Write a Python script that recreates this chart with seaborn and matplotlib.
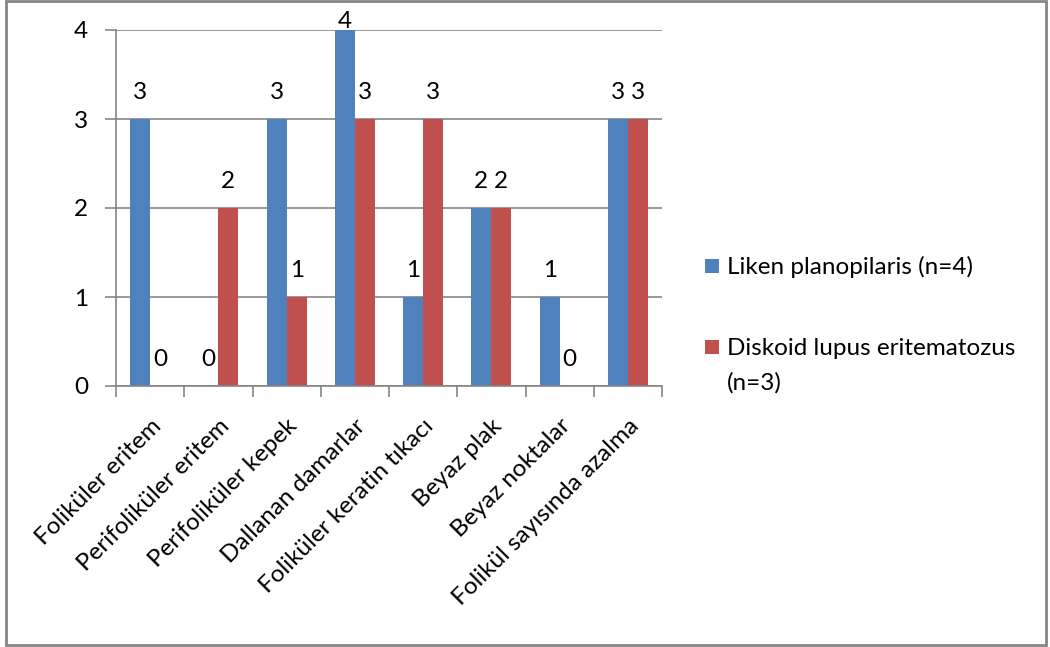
import matplotlib
matplotlib.use("Agg")
import matplotlib.pyplot as plt
import seaborn as sns
import pandas as pd
from matplotlib.patches import Rectangle
from matplotlib.ticker import FixedLocator

# Dermoscopic findings per diagnosis group
categories = [
    "Foliküler eritem",
    "Perifoliküler eritem",
    "Perifoliküler kepek",
    "Dallanan damarlar",
    "Foliküler keratin tıkacı",
    "Beyaz plak",
    "Beyaz noktalar",
    "Folikül sayısında azalma",
]
liken_values = [3, 0, 3, 4, 1, 2, 1, 3]
diskoid_values = [0, 2, 1, 3, 3, 2, 0, 3]
series_names = ["Liken planopilaris (n=4)", "Diskoid lupus eritematozus\n(n=3)"]
series_colors = ["#4F81BD", "#C0504D"]
y_ticks = [0, 1, 2, 3, 4]

df = pd.DataFrame({
    "category": categories * 2,
    "value": liken_values + diskoid_values,
    "series": [series_names[0]] * len(categories) + [series_names[1]] * len(categories),
})

sns.set_theme(style="white")
plt.rcParams["font.family"] = ["Lato", "DejaVu Sans"]
FS = 17.5
plt.rcParams["font.size"] = FS

grey = "#868686"

fig = plt.figure(figsize=(10.5, 6.47), dpi=100)
ax = fig.add_axes([116 / 1050, 1 - 386 / 647, 546 / 1050, 356 / 647])

sns.barplot(
    data=df, x="category", y="value", hue="series",
    order=categories, hue_order=series_names,
    palette=series_colors, width=0.586, saturation=1, gap=0,
    linewidth=0, edgecolor="none",
    ax=ax, legend=False,
)

# value labels above each bar
for container in ax.containers:
    for bar in container:
        v = bar.get_height()
        xc = bar.get_x() + bar.get_width() / 2
        ax.text(xc, min(v + 0.30, 4.09), f"{int(round(v))}",
                ha="center", va="center", fontsize=FS, color="black",
                clip_on=False)

ax.set_ylim(0, 4)
ax.set_xlim(-0.5, len(categories) - 0.5)
ax.yaxis.set_major_locator(FixedLocator(y_ticks))
ax.set_yticklabels([str(t) for t in y_ticks])
ax.yaxis.grid(True, color=grey, lw=1.2)
ax.set_axisbelow(True)
ax.set_xlabel("")
ax.set_ylabel("")

ax.set_xticks(range(len(categories)))
ax.set_xticklabels(categories, rotation=45, ha="right", va="top",
                   rotation_mode="anchor")
ax.set_xticks([i - 0.5 for i in range(len(categories) + 1)], minor=True)
ax.tick_params(axis="x", which="major", length=0, pad=21, labelsize=FS,
               colors="black")
ax.tick_params(axis="x", which="minor", length=8, width=1.2, color=grey,
               direction="out", bottom=True)
ax.tick_params(axis="y", which="major", length=8, width=1.2, color=grey,
               direction="out", left=True, pad=12, labelsize=FS,
               labelcolor="black")

for side in ["top", "right"]:
    ax.spines[side].set_visible(False)
for side in ["left", "bottom"]:
    ax.spines[side].set_color(grey)
    ax.spines[side].set_linewidth(1.2)

# legend: colour keys with their series names (first-line baseline aligned)
W, H = 1050, 647
key_tops = [259, 340]
baselines = [274, 355]
for color, name, top, base in zip(series_colors, series_names, key_tops, baselines):
    fig.patches.append(Rectangle((705 / W, 1 - (top + 14) / H), 14 / W, 14 / H,
                                 transform=fig.transFigure,
                                 facecolor=color, edgecolor="none"))
    lines = name.split("\n")
    for i, line in enumerate(lines):
        fig.text(727 / W, 1 - (base + 35 * i) / H, line, ha="left",
                 va="baseline", fontsize=FS, color="black")

fig.patches.append(Rectangle((6 / W, 2 / H), 1040 / W, 644 / H,
                             transform=fig.transFigure, fill=False,
                             edgecolor=grey, linewidth=2))

fig.savefig("out.png", dpi=100)
